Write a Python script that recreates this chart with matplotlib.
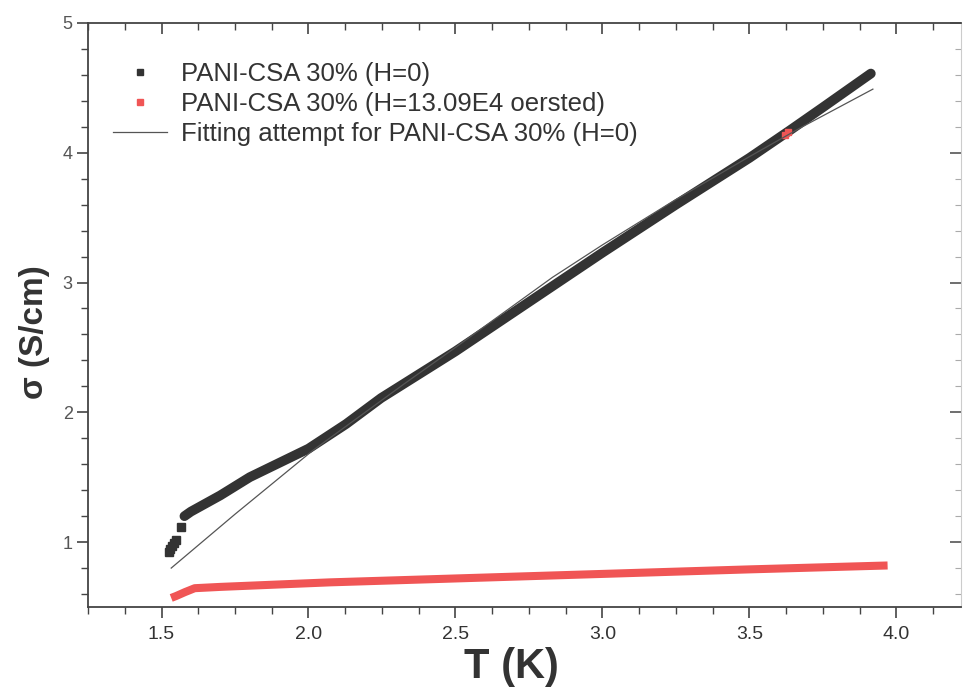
import matplotlib.pyplot as plt
from matplotlib.lines import Line2D
from matplotlib.ticker import MultipleLocator

plt.rcParams['font.family'] = ['Liberation Sans', 'DejaVu Sans']

# sigma(T) at H=0 : scattered start points, then the dense band
t_start = [1.527, 1.530, 1.535, 1.542, 1.550, 1.567]
s_start = [0.92, 0.95, 0.97, 0.99, 1.02, 1.12]
t_h0 = [1.578, 1.60, 1.70, 1.80, 1.90, 2.00, 2.128, 2.247, 2.50, 2.75,
        3.00, 3.25, 3.50, 3.636, 3.75, 3.913]
s_h0 = [1.20, 1.235, 1.36, 1.50, 1.61, 1.72, 1.91, 2.11, 2.47, 2.85,
        3.23, 3.60, 3.96, 4.17, 4.35, 4.61]

# sigma(T) at H = 13.09E4 oersted
t_h = [1.533, 1.55, 1.58, 1.613, 1.70, 2.073, 2.50, 3.00, 3.50, 3.97]
s_h = [0.57, 0.585, 0.615, 0.645, 0.655, 0.69, 0.72, 0.755, 0.79, 0.82]
t_stray = [3.62, 3.63]
s_stray = [4.14, 4.16]

# fitting attempt for H=0
t_fit = [1.533, 1.75, 2.014, 2.326, 2.50, 2.83, 3.00, 3.25, 3.50, 3.68, 3.92]
s_fit = [0.80, 1.215, 1.705, 2.22, 2.50, 3.04, 3.29, 3.64, 3.97, 4.20, 4.49]

labels = ['PANI-CSA 30% (H=0)',
          'PANI-CSA 30% (H=13.09E4 oersted)',
          'Fitting attempt for PANI-CSA 30% (H=0)']

black = '#333333'
red = '#f05555'
txt = '#333333'

fig = plt.figure(figsize=(9.63, 6.95), dpi=100)
ax = fig.add_axes([0.0914, 0.1266, 0.9066, 0.8404])

ax.plot(t_h, s_h, color=red, lw=5.8, solid_capstyle='butt', zorder=2)
ax.plot(t_h0, s_h0, color=black, lw=7.0, solid_capstyle='round', zorder=3)
ax.plot(t_start, s_start, 's', color=black, ms=5.5, zorder=3)
ax.plot(t_stray, s_stray, 's', color=red, ms=4, zorder=4)
ax.plot(t_fit, s_fit, color='#555555', lw=0.9, zorder=5)

ax.set_xlim(1.25, 4.22)
ax.set_ylim(0.5, 5.0)
ax.xaxis.set_major_locator(MultipleLocator(0.5))
ax.xaxis.set_minor_locator(MultipleLocator(0.125))
ax.yaxis.set_major_locator(MultipleLocator(1))
ax.yaxis.set_minor_locator(MultipleLocator(0.2))
ax.xaxis.set_major_formatter(plt.FormatStrFormatter('%.1f'))
ax.yaxis.set_major_formatter(plt.FormatStrFormatter('%d'))

ax.tick_params(which='major', direction='out', length=8, width=1.2,
               color='#444444')
ax.tick_params(which='minor', direction='out', length=5, width=1.0,
               color='#444444')
ax.tick_params(axis='x', labelsize=14, labelcolor=txt, pad=6)
ax.tick_params(axis='y', labelsize=13, labelcolor='#555555', pad=3)
for side in ['left', 'bottom', 'top']:
    ax.spines[side].set_color('#444444')
    ax.spines[side].set_linewidth(1.3)
ax.spines['right'].set_color('#cccccc')

# mirrored axes, ticks pointing inward, no labels
top = ax.secondary_xaxis('top')
top.xaxis.set_major_locator(MultipleLocator(0.5))
top.xaxis.set_minor_locator(MultipleLocator(0.125))
top.tick_params(which='major', direction='in', length=8, width=1.2,
                color='#444444', labeltop=False)
top.tick_params(which='minor', direction='in', length=5, width=1.0,
                color='#444444')
top.spines['top'].set_visible(False)

right = ax.secondary_yaxis('right')
right.yaxis.set_major_locator(MultipleLocator(1))
right.yaxis.set_minor_locator(MultipleLocator(0.2))
right.tick_params(which='major', direction='in', length=8, width=1.2,
                  color='#555555', labelright=False)
right.tick_params(which='minor', direction='in', length=4, width=0.8,
                  color='#aaaaaa')
right.spines['right'].set_visible(False)

ax.set_xlabel('T (K)', fontsize=30, fontweight='bold', color=txt)
ax.xaxis.set_label_coords(0.4845, -0.068)
ax.set_ylabel('σ (S/cm)', fontsize=24, fontweight='bold', color=txt)
ax.yaxis.set_label_coords(-0.0435, 0.47)

handles = [Line2D([], [], ls='none', marker='s', ms=5, color=black),
           Line2D([], [], ls='none', marker='s', ms=5, color=red),
           Line2D([], [], color='#555555', lw=0.9)]
leg = ax.legend(handles, labels, loc='upper left',
                bbox_to_anchor=(0.0286, 0.933), frameon=False, fontsize=18.5,
                handlelength=2.1, handletextpad=0.55, labelspacing=0.23,
                borderpad=0.0, borderaxespad=0.0)
for t in leg.get_texts():
    t.set_color(txt)

fig.savefig('out.png', dpi=100)
